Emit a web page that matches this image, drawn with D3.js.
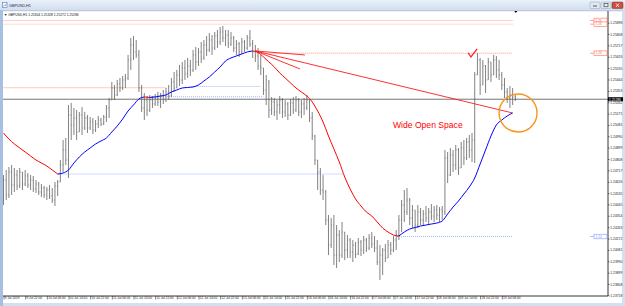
<!DOCTYPE html>
<html>
<head>
<meta charset="utf-8">
<title>GBPUSD,H1</title>
<script src="https://d3js.org/d3.v7.min.js"></script>
<style>
  body { margin: 0; background: #fff; }
  svg { display: block; font-family: "Liberation Sans", Arial, sans-serif; }
</style>
</head>
<body>
<svg id="chart" width="625" height="306"></svg>
<script>
// ---- data ----
const symbol = "GBPUSD,H1";

const timeLabels = ["9 Jul 2019", "9 Jul 22:00", "10 Jul 06:00", "10 Jul 14:00", "10 Jul 22:00",
  "11 Jul 06:00", "11 Jul 14:00", "11 Jul 22:00", "12 Jul 06:00", "12 Jul 14:00", "12 Jul 22:00",
  "15 Jul 06:00", "15 Jul 14:00", "15 Jul 22:00", "16 Jul 06:00", "16 Jul 14:00", "16 Jul 22:00",
  "17 Jul 06:00", "17 Jul 14:00", "17 Jul 22:00", "18 Jul 06:00", "18 Jul 14:00", "18 Jul 22:00",
  "19 Jul 06:00"];
const barsPerLabel = 8;

const priceTicks = [1.23718, 1.23808, 1.23899, 1.23990, 1.24081, 1.24172, 1.24263, 1.24354,
  1.24445, 1.24535, 1.24626, 1.24717, 1.24808, 1.24899, 1.24990, 1.25081, 1.25171, 1.25262,
  1.25353, 1.25444, 1.25535, 1.25626, 1.25717, 1.25808, 1.25898];

const highP = [1.2468,1.2472,1.24744,1.2476,1.24736,1.2472,1.24736,1.24704,1.2472,1.24696,
1.2468,1.24672,1.2464,1.24624,1.24608,1.24592,1.24584,1.246,1.24576,1.24624,
1.2464,1.248,1.2496,1.24976,1.2524,1.25256,1.25216,1.252,1.25184,1.25224,
1.25184,1.2516,1.25144,1.25136,1.2512,1.25152,1.25136,1.2516,1.2524,1.25296,
1.25424,1.254,1.2544,1.25456,1.25472,1.25488,1.2564,1.25776,1.25792,1.2576,
1.2568,1.254,1.25336,1.25312,1.2532,1.25312,1.25328,1.25344,1.25336,1.2536,
1.25376,1.254,1.25456,1.25504,1.2552,1.2556,1.25584,1.256,1.25616,1.256,
1.2568,1.25704,1.25696,1.25744,1.2576,1.25792,1.25816,1.258,1.25824,1.2584,
1.25864,1.25872,1.2584,1.2584,1.25824,1.25792,1.2576,1.25744,1.25776,1.2576,
1.258,1.2584,1.2576,1.2572,1.25696,1.2564,1.25536,1.2548,1.2544,1.25304,
1.25296,1.2528,1.25312,1.25296,1.2528,1.25264,1.25288,1.25304,1.25312,1.25296,
1.2528,1.25296,1.2532,1.2528,1.25184,1.25,1.248,1.24736,1.2468,1.2456,
1.2436,1.24336,1.2436,1.2428,1.2424,1.24304,1.24224,1.242,1.24176,1.2416,
1.24144,1.24176,1.2416,1.24192,1.24176,1.24208,1.24224,1.24192,1.2416,1.2412,
1.24096,1.24128,1.2416,1.24144,1.24192,1.2424,1.2436,1.2448,1.2456,1.24576,
1.24496,1.2444,1.244,1.2444,1.24416,1.244,1.24432,1.24416,1.24448,1.24432,
1.2444,1.24424,1.24432,1.2488,1.24864,1.24896,1.2488,1.2492,1.24896,1.24944,
1.2496,1.24976,1.25,1.25016,1.25504,1.25656,1.25616,1.256,1.2556,1.25616,
1.25584,1.2564,1.25632,1.256,1.25504,1.25456,1.25376,1.25392,1.25376,1.25328];

const lowP = [1.2444,1.2448,1.24496,1.2452,1.24544,1.2456,1.24576,1.2456,1.24592,1.24576,
1.2456,1.24544,1.24536,1.2452,1.24504,1.24496,1.2448,1.24488,1.24456,1.24432,
1.24512,1.24624,1.24704,1.2476,1.24656,1.2496,1.25,1.2496,1.25024,1.25,
1.2504,1.25016,1.2504,1.25008,1.25024,1.25056,1.25072,1.2508,1.25104,1.25136,
1.2528,1.2528,1.25312,1.25344,1.2536,1.25376,1.2544,1.2552,1.256,1.25616,
1.25344,1.25184,1.2512,1.25152,1.25184,1.25216,1.25232,1.25232,1.25216,1.25248,
1.25264,1.2528,1.25304,1.25344,1.25376,1.25392,1.25408,1.2544,1.25456,1.25472,
1.25504,1.2552,1.25552,1.25576,1.256,1.25632,1.25664,1.2564,1.2568,1.25696,
1.2572,1.25744,1.25712,1.25696,1.25712,1.25664,1.2564,1.25624,1.25648,1.25664,
1.2568,1.25704,1.25616,1.25584,1.2552,1.2548,1.2532,1.2524,1.25136,1.2516,
1.25152,1.2512,1.25168,1.25136,1.25144,1.2512,1.25152,1.25168,1.25184,1.25152,
1.25136,1.2516,1.252,1.25104,1.2496,1.2476,1.2456,1.2452,1.2448,1.2428,
1.2404,1.24096,1.2396,1.23936,1.23984,1.24016,1.24,1.24016,1.24016,1.23984,
1.24016,1.2404,1.24032,1.24048,1.24064,1.2408,1.24096,1.24064,1.2396,1.2384,
1.2388,1.23984,1.24016,1.2404,1.24064,1.2408,1.2416,1.24224,1.24304,1.2436,
1.2428,1.24256,1.24224,1.24256,1.2428,1.24272,1.24304,1.24288,1.2432,1.24304,
1.2432,1.24304,1.2432,1.2436,1.24616,1.24672,1.24704,1.2472,1.2468,1.24736,
1.2476,1.248,1.24816,1.24784,1.24776,1.2548,1.2532,1.254,1.25336,1.2544,
1.25424,1.2548,1.25456,1.2544,1.2536,1.25296,1.25256,1.25216,1.2524,1.25272];

const openP = [1.2448,1.2464,1.2452,1.24704,1.246,1.2468,1.24592,1.24704,1.24608,1.24672,
1.246,1.2464,1.24568,1.24608,1.24544,1.24576,1.2452,1.2456,1.24512,1.2448,
1.24592,1.24624,1.2476,1.2488,1.248,1.2516,1.2508,1.25136,1.25024,1.2516,
1.25056,1.25136,1.25056,1.25104,1.2504,1.25088,1.2512,1.25088,1.25144,1.25216,
1.2528,1.25376,1.2532,1.25408,1.25376,1.2544,1.25456,1.256,1.2572,1.25664,
1.2564,1.25376,1.25216,1.2528,1.252,1.2528,1.25248,1.25296,1.25264,1.25312,
1.2528,1.25344,1.25312,1.25424,1.25376,1.2548,1.2544,1.25536,1.25488,1.25552,
1.2552,1.2564,1.25584,1.25664,1.25616,1.2572,1.2568,1.2576,1.25696,1.25792,
1.25744,1.25824,1.25776,1.258,1.25728,1.25776,1.25696,1.25728,1.25664,1.25744,
1.25696,1.25776,1.25728,1.25664,1.25632,1.25552,1.25536,1.2536,1.25424,1.252,
1.25264,1.25184,1.2524,1.2528,1.25184,1.25248,1.2516,1.25256,1.252,1.2528,
1.25184,1.25248,1.25216,1.2528,1.25136,1.24992,1.248,1.24704,1.2456,1.24544,
1.2432,1.2412,1.2428,1.2404,1.242,1.2404,1.24224,1.2408,1.2416,1.24064,
1.2412,1.24048,1.24144,1.2408,1.2416,1.24096,1.24176,1.24128,1.24096,1.23984,
1.2404,1.2408,1.24016,1.2412,1.2408,1.2416,1.242,1.2432,1.2444,1.24384,
1.2448,1.24336,1.244,1.2428,1.24384,1.2432,1.24368,1.24336,1.24384,1.24352,
1.244,1.2436,1.244,1.24384,1.24816,1.2468,1.2484,1.2476,1.2488,1.24736,
1.24896,1.24816,1.24944,1.2488,1.2496,1.2548,1.256,1.254,1.25552,1.2544,
1.25584,1.2548,1.256,1.2552,1.2548,1.254,1.25344,1.25296,1.2532,1.25304];

const closeP = [1.2464,1.2452,1.24704,1.246,1.2468,1.24592,1.24704,1.24608,1.24672,1.246,
1.2464,1.24568,1.24608,1.24544,1.24576,1.2452,1.2456,1.24512,1.2448,1.24592,
1.24624,1.2476,1.2488,1.248,1.2516,1.2508,1.25136,1.25024,1.2516,1.25056,
1.25136,1.25056,1.25104,1.2504,1.25088,1.2512,1.25088,1.25144,1.25216,1.2528,
1.25376,1.2532,1.25408,1.25376,1.2544,1.25456,1.256,1.2572,1.25664,1.2564,
1.25376,1.25216,1.2528,1.252,1.2528,1.25248,1.25296,1.25264,1.25312,1.2528,
1.25344,1.25312,1.25424,1.25376,1.2548,1.2544,1.25536,1.25488,1.25552,1.2552,
1.2564,1.25584,1.25664,1.25616,1.2572,1.2568,1.2576,1.25696,1.25792,1.25744,
1.25824,1.25776,1.258,1.25728,1.25776,1.25696,1.25728,1.25664,1.25744,1.25696,
1.25776,1.25728,1.25664,1.25632,1.25552,1.25536,1.2536,1.2544,1.252,1.25264,
1.25184,1.2524,1.2528,1.25184,1.25248,1.2516,1.25256,1.252,1.2528,1.25184,
1.25248,1.25216,1.2528,1.25136,1.24992,1.248,1.24704,1.2456,1.24544,1.2432,
1.2412,1.2428,1.2404,1.242,1.2404,1.24224,1.2408,1.2416,1.24064,1.2412,
1.24048,1.24144,1.2408,1.2416,1.24096,1.24176,1.24128,1.24096,1.23984,1.2404,
1.2408,1.24016,1.2412,1.2408,1.2416,1.242,1.2432,1.2444,1.24384,1.2448,
1.24336,1.244,1.2428,1.24384,1.2432,1.24368,1.24336,1.24384,1.24352,1.244,
1.2436,1.244,1.24384,1.24816,1.2468,1.2484,1.2476,1.2488,1.24736,1.24896,
1.24816,1.24944,1.2488,1.2496,1.2548,1.256,1.254,1.25552,1.2544,1.25584,
1.2548,1.256,1.2552,1.2548,1.254,1.25344,1.25296,1.2532,1.25304,1.25286];

// moving average, one value every second bar
const maStep = 2;
const maValues = [1.25016,1.24968,1.24928,1.24896,1.24864,1.24832,1.248,1.24776,1.24752,1.2472,
1.24688,1.24696,1.2472,1.24776,1.24824,1.24864,1.24896,1.24928,1.24952,1.24976,
1.25024,1.25072,1.25128,1.25192,1.2524,1.25288,1.25304,1.253,1.25304,1.25312,
1.2532,1.25344,1.2536,1.25376,1.2538,1.25384,1.254,1.25432,1.25464,1.25504,
1.25544,1.25592,1.25616,1.25632,1.25648,1.25664,1.25672,1.2566,1.25624,1.25584,
1.25544,1.25496,1.25456,1.25416,1.25376,1.25344,1.25312,1.25264,1.25192,1.25104,
1.24992,1.24888,1.24784,1.24664,1.24568,1.24488,1.24432,1.24384,1.24352,1.24304,
1.24256,1.24224,1.242,1.24192,1.24224,1.24248,1.2426,1.24272,1.2428,1.24288,
1.24296,1.24312,1.24368,1.24424,1.24472,1.24528,1.24584,1.24656,1.24768,1.2488,
1.24992,1.2508,1.2512,1.25152,1.25176];

// horizontal dotted levels (price, first bar, last bar, side)
const levelPrice = [1.25916, 1.25886, 1.25654, 1.25378, 1.25388, 1.25306, 1.24688, 1.24188];
const levelFrom  = [0, 0, 93.5, 0, 69, 53, 20, 145.3];
const levelTo    = [188, 188, 188, 60, 95, 96, 125.4, 188];
const levelSide  = ["down", "down", "down", "down", "up", "up", "up", "up"];
const levelTagged = [true, true, true, false, false, false, false, true];

// trend lines drawn from the MA top
const fanFromBar = 93, fanFromPrice = 1.25672;
const fanToBar = [111.3, 109.5, 188];
const fanToPrice = [1.2564, 1.25528, 1.25176];

// annotations
const noteText = "Wide Open Space";
const noteBar = 143.8, notePrice = 1.25056;
const checkBars = [171.6, 172.6, 174.9];
const checkPrices = [1.25656, 1.25624, 1.25688];
const circleBar = 190, circlePrice = 1.25176;

// ---- drawing ----
const W = 625, H = 306;
const pl = 3, pr = 608, pt = 11, pb = 296;
const svg = d3.select("#chart");

const x = d3.scaleLinear().domain([0, 184]).range([3.5, 501.8]);
const y = d3.scaleLinear().domain([1.23718, 1.25898]).range([295.3, 22.7]);

// window chrome
svg.append("rect").attr("width", W).attr("height", H).attr("fill", "#d3e0f0");
const defs = svg.append("defs");
const tb = defs.append("linearGradient").attr("id", "tb").attr("x1", 0).attr("x2", 0).attr("y1", 0).attr("y2", 1);
tb.append("stop").attr("offset", "0%").attr("stop-color", "#eaf1fa");
tb.append("stop").attr("offset", "100%").attr("stop-color", "#cfdcee");
svg.append("rect").attr("width", W).attr("height", 11).attr("fill", "url(#tb)");
svg.append("rect").attr("x", pl).attr("y", pt).attr("width", 619).attr("height", 292).attr("fill", "#fff");
svg.append("rect").attr("x", 0).attr("y", 10).attr("width", 3).attr("height", 296).attr("fill", "#a6bfe2");
svg.append("line").attr("x1", 3).attr("x2", 622).attr("y1", 10.8).attr("y2", 10.8)
  .attr("stroke", "#9db2cf").attr("stroke-width", 0.6);

// title icon + caption
svg.append("rect").attr("x", 2.5).attr("y", 2.5).attr("width", 4.5).attr("height", 5)
  .attr("fill", "#fff").attr("stroke", "#4a78b8").attr("stroke-width", 0.6);
svg.append("path").attr("d", "M3.2,6.5 L4.4,4.8 L5.3,5.8 L6.5,3.6").attr("fill", "none")
  .attr("stroke", "#2f66b3").attr("stroke-width", 0.5);
svg.append("text").attr("x", 9).attr("y", 6.6).attr("font-size", 3.8).attr("fill", "#1e2b3c").text(symbol);

// caption buttons
const btn = svg.append("g");
btn.append("rect").attr("x", 590).attr("y", 2).attr("width", 10).attr("height", 6.5).attr("rx", 1)
  .attr("fill", "#dfe7f2").attr("stroke", "#8ea3c0").attr("stroke-width", 0.5);
btn.append("line").attr("x1", 593).attr("x2", 597).attr("y1", 6).attr("y2", 6).attr("stroke", "#333").attr("stroke-width", 0.8);
btn.append("rect").attr("x", 601).attr("y", 2).attr("width", 10).attr("height", 6.5).attr("rx", 1)
  .attr("fill", "#dfe7f2").attr("stroke", "#8ea3c0").attr("stroke-width", 0.5);
btn.append("rect").attr("x", 604).attr("y", 3.6).attr("width", 4).attr("height", 3.2)
  .attr("fill", "none").attr("stroke", "#333").attr("stroke-width", 0.6);
btn.append("rect").attr("x", 612).attr("y", 2).attr("width", 11).attr("height", 6.5).attr("rx", 1)
  .attr("fill", "#c9503e").attr("stroke", "#8e3326").attr("stroke-width", 0.5);
btn.append("path").attr("d", "M616,3.5 L619,7 M619,3.5 L616,7").attr("stroke", "#fff").attr("stroke-width", 0.8);

// plot clip
defs.append("clipPath").attr("id", "plot").append("rect")
  .attr("x", pl).attr("y", pt).attr("width", pr - pl).attr("height", pb - pt);
const plot = svg.append("g").attr("clip-path", "url(#plot)");

// dotted levels
const levelColor = { down: "#ff6e55", up: "#7f9cff" };
levelPrice.forEach((p, i) => {
  plot.append("line")
    .attr("x1", x(levelFrom[i])).attr("x2", x(levelTo[i]))
    .attr("y1", y(p)).attr("y2", y(p))
    .attr("stroke", levelColor[levelSide[i]])
    .attr("stroke-width", 0.8)
    .attr("stroke-dasharray", "1,1")
    .attr("opacity", i === 1 ? 0.6 : 0.9);
});

// last price line
const lastPrice = closeP[closeP.length - 1];
plot.append("line").attr("x1", pl).attr("x2", pr)
  .attr("y1", y(lastPrice)).attr("y2", y(lastPrice))
  .attr("stroke", "#505050").attr("stroke-width", 0.8);

// OHLC bars
const bars = plot.append("g").attr("stroke", "#626262");
highP.forEach((h, i) => {
  const cx = x(i);
  bars.append("line").attr("x1", cx).attr("x2", cx).attr("y1", y(h)).attr("y2", y(lowP[i])).attr("stroke-width", 0.8);
  bars.append("line").attr("x1", cx - 0.8).attr("x2", cx).attr("y1", y(openP[i])).attr("y2", y(openP[i])).attr("stroke-width", 0.6);
  bars.append("line").attr("x1", cx).attr("x2", cx + 0.8).attr("y1", y(closeP[i])).attr("y2", y(closeP[i])).attr("stroke-width", 0.6);
});

// moving average, red while falling, blue while rising
const maPts = maValues.map((v, k) => [x(k * maStep), y(v)]);
const runs = [];
for (let k = 0; k < maValues.length - 1; k++) {
  const dir = maValues[k + 1] < maValues[k] ? "down" : "up";
  const last = runs[runs.length - 1];
  if (last && last.dir === dir) last.pts.push(maPts[k + 1]);
  else runs.push({ dir: dir, pts: [maPts[k], maPts[k + 1]] });
}
const maLine = d3.line().curve(d3.curveMonotoneX);
runs.forEach(r => {
  plot.append("path").attr("d", maLine(r.pts)).attr("fill", "none")
    .attr("stroke", r.dir === "down" ? "#ff0000" : "#0000ff").attr("stroke-width", 1);
});

// trend lines
fanToBar.forEach((b, i) => {
  plot.append("line")
    .attr("x1", x(fanFromBar)).attr("y1", y(fanFromPrice))
    .attr("x2", x(b)).attr("y2", y(fanToPrice[i]))
    .attr("stroke", "#ff1a1a").attr("stroke-width", 0.9);
});

// annotations
plot.append("text").attr("x", x(noteBar)).attr("y", y(notePrice))
  .attr("font-size", 8.6).attr("fill", "#ff0000").text(noteText);
plot.append("path")
  .attr("d", d3.line()(checkBars.map((b, i) => [x(b), y(checkPrices[i])])))
  .attr("fill", "none").attr("stroke", "#ff1a1a").attr("stroke-width", 1.2);
plot.append("circle").attr("cx", x(circleBar)).attr("cy", y(circlePrice)).attr("r", 19)
  .attr("fill", "none").attr("stroke", "#f7941d").attr("stroke-width", 1.4);

// shift marker
svg.append("path").attr("d", `M${x(189) + 0.5},13 l-1.5,-2 h3 z`).attr("fill", "#000");

// header
svg.append("text").attr("x", 4).attr("y", 15.6).attr("font-size", 3.3).attr("fill", "#111")
  .text("\u25BC " + symbol + "  " + [openP, highP, lowP, closeP].map(a => a[a.length - 1].toFixed(5)).join(" "));

// price axis
svg.append("line").attr("x1", pr).attr("x2", pr).attr("y1", pt).attr("y2", pb)
  .attr("stroke", "#000").attr("stroke-width", 0.8);
const yAxis = svg.append("g").attr("transform", `translate(${pr},0)`)
  .call(d3.axisRight(y).tickValues(priceTicks).tickFormat(d3.format(".5f")).tickSize(1.5).tickPadding(0.8));
yAxis.select(".domain").remove();
yAxis.selectAll("text").attr("font-size", 3.3).attr("fill", "#222").attr("font-family", "Liberation Sans, Arial, sans-serif");
yAxis.selectAll("line").attr("stroke", "#000").attr("stroke-width", 0.5);

// level tags on the axis
levelPrice.forEach((p, i) => {
  if (!levelTagged[i]) return;
  const c = levelColor[levelSide[i]];
  const g = svg.append("g").attr("transform", `translate(594,${y(p)})`);
  g.append("line").attr("x1", -4).attr("x2", 0).attr("y1", 0).attr("y2", 0).attr("stroke", c).attr("stroke-width", 0.6);
  g.append("rect").attr("x", 0).attr("y", -2.3).attr("width", 13).attr("height", 4.6)
    .attr("fill", "#fff").attr("stroke", c).attr("stroke-width", 0.6);
  g.append("text").attr("x", 1.5).attr("y", 1.2).attr("font-size", 3.2).attr("fill", c).text(p.toFixed(2));
});

// last price tag
svg.append("rect").attr("x", pr).attr("y", y(lastPrice) - 2).attr("width", 15).attr("height", 4)
  .attr("fill", "#000");
svg.append("text").attr("x", pr + 1).attr("y", y(lastPrice) + 1.3).attr("font-size", 3.3)
  .attr("fill", "#fff").text(lastPrice.toFixed(5));

// time axis
svg.append("line").attr("x1", pl).attr("x2", pr).attr("y1", pb).attr("y2", pb)
  .attr("stroke", "#000").attr("stroke-width", 0.8);
const xAxis = svg.append("g").attr("transform", `translate(0,${pb})`)
  .call(d3.axisBottom(x).tickValues(timeLabels.map((d, i) => i * barsPerLabel))
    .tickFormat((d, i) => timeLabels[i]).tickSize(3.5).tickPadding(0));
xAxis.select(".domain").remove();
xAxis.selectAll("line").attr("stroke", "#000").attr("stroke-width", 0.5);
xAxis.selectAll("text").attr("text-anchor", "start").attr("x", 0.8).attr("y", 1.2)
  .attr("font-size", 3.2).attr("fill", "#222").attr("font-family", "Liberation Sans, Arial, sans-serif");
</script>
</body>
</html>
